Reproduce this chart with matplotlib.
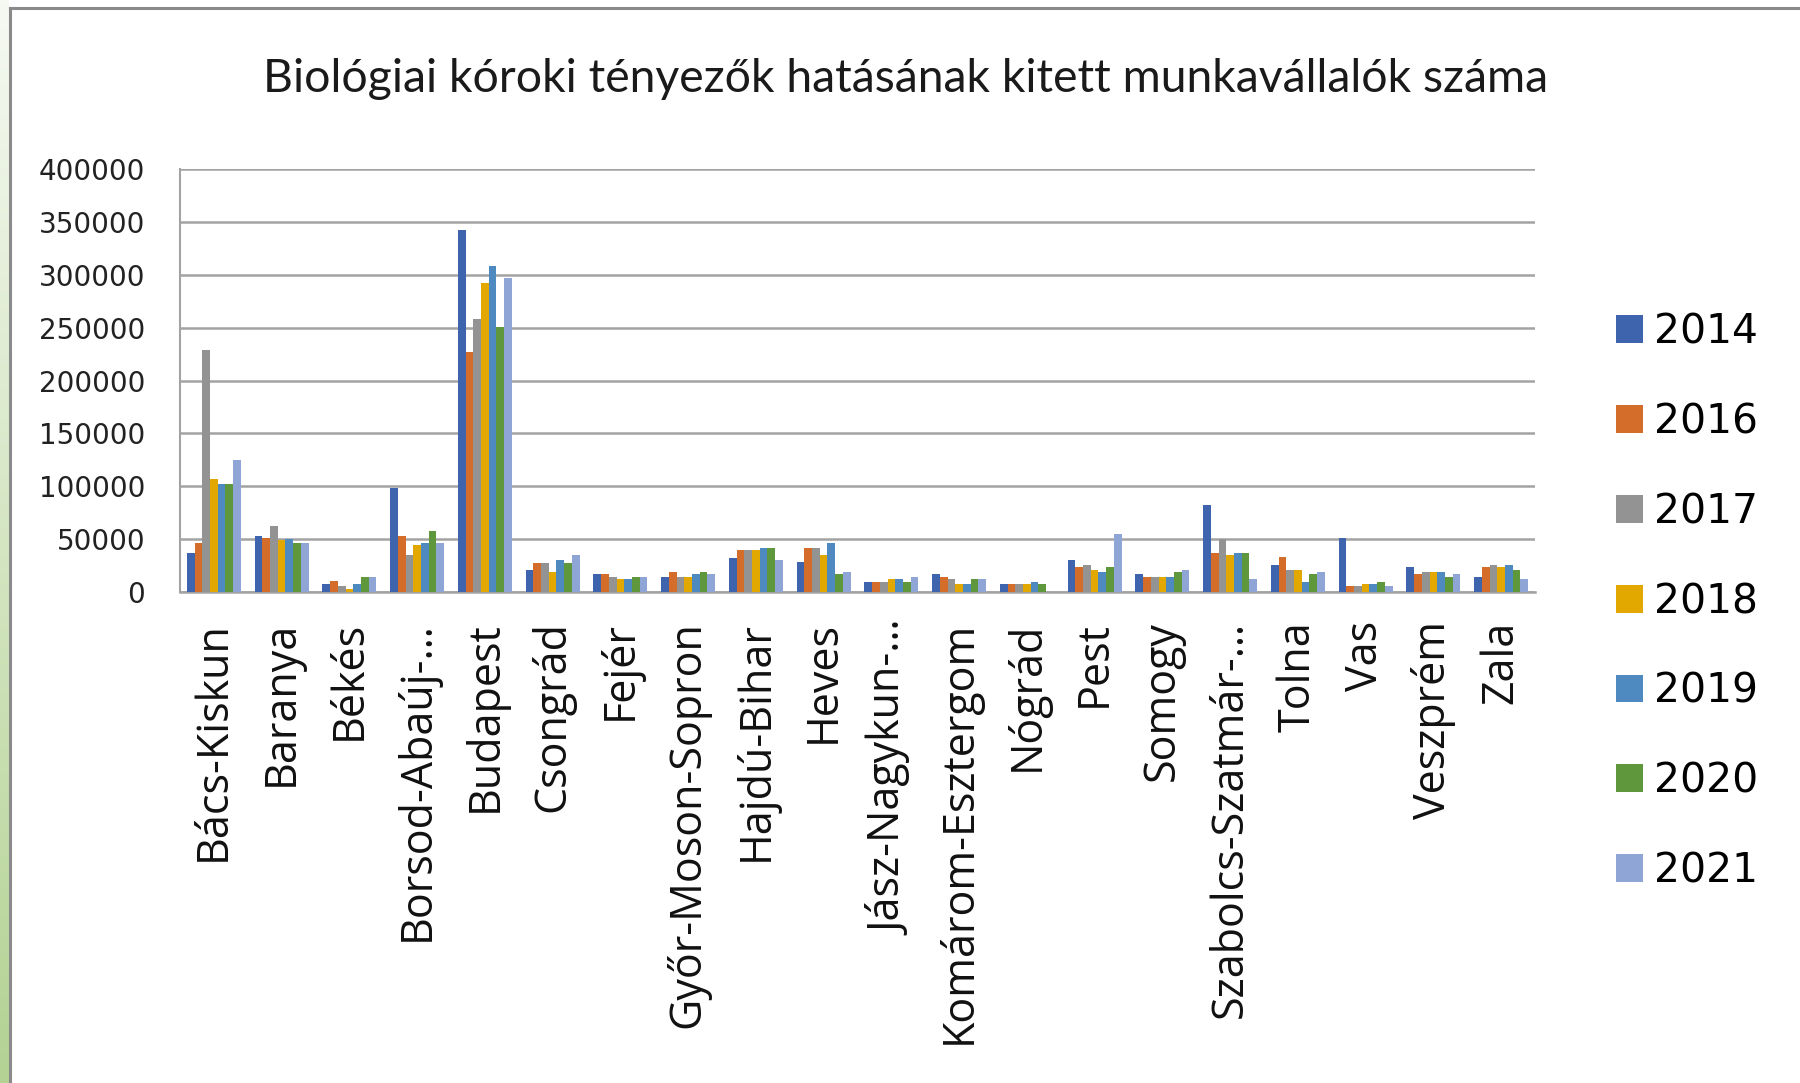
import numpy as np
import matplotlib.pyplot as plt
from matplotlib.lines import Line2D
from matplotlib.colors import LinearSegmentedColormap

# Counties (labels as shown, long ones truncated like in the original chart)
megyek = ["Bács-Kiskun", "Baranya", "Békés", "Borsod-Abaúj-…", "Budapest",
          "Csongrád", "Fejér", "Győr-Moson-Sopron", "Hajdú-Bihar", "Heves",
          "Jász-Nagykun-…", "Komárom-Esztergom", "Nógrád", "Pest", "Somogy",
          "Szabolcs-Szatmár-…", "Tolna", "Vas", "Veszprém", "Zala"]

evek = ["2014", "2016", "2017", "2018", "2019", "2020", "2021"]

v2014 = [37000, 52800, 7500, 98400, 342000, 21000, 16700, 14500, 32400, 28000,
         9700, 16700, 7500, 30200, 16700, 82000, 25800, 50600, 23600, 14500]
v2016 = [46000, 50600, 10000, 52800, 227000, 27700, 16700, 18900, 39300, 41500,
         9700, 14500, 7500, 23600, 14500, 37100, 32700, 5300, 16700, 23600]
v2017 = [229000, 62000, 5300, 34900, 258000, 27700, 14500, 14500, 39300, 41500,
         9700, 12000, 7500, 25800, 14500, 49700, 21100, 5300, 18900, 25800]
v2018 = [107000, 48700, 3100, 44000, 292500, 18900, 12000, 14500, 39300, 34600,
         12000, 7500, 7500, 21100, 14500, 34900, 21100, 7500, 18900, 23600]
v2019 = [102500, 50300, 7500, 45900, 308500, 30200, 12000, 16700, 41500, 45900,
         12000, 7500, 9700, 18900, 14500, 37100, 9700, 7500, 18900, 25800]
v2020 = [102500, 45900, 14500, 57500, 251000, 27700, 14500, 18900, 41500, 16700,
         9700, 12000, 7500, 23600, 18900, 37100, 16700, 9700, 14500, 21100]
v2021 = [125000, 45900, 14500, 45900, 297000, 34600, 14500, 16700, 30200, 18900,
         14500, 12000, 0, 55000, 21100, 12000, 18900, 5300, 16700, 12000]

szinek = ["#3D64AC", "#D46D2A", "#939393", "#E2A800", "#4E8AC0", "#5F973C", "#8FA5D6"]

sorozatok = [v2014, v2016, v2017, v2018, v2019, v2020, v2021]

fig = plt.figure(figsize=(18, 10.83), dpi=100)

# light green slide background strip on the left edge
bg = fig.add_axes([0, 0, 9 / 1800, 1])
grad = np.linspace(0, 1, 256).reshape(-1, 1)
cm = LinearSegmentedColormap.from_list("g", ["#f6f9f2", "#b3d293"])
bg.imshow(grad, aspect="auto", cmap=cm, extent=[0, 1, 0, 1], origin="upper")
bg.axis("off")

# chart frame (gray border, top and left visible)
fig.add_artist(Line2D([10 / 1800, 10 / 1800], [0, 1 - 8 / 1083],
                      transform=fig.transFigure, color="#8a8a8a", lw=2.2))
fig.add_artist(Line2D([10 / 1800, 1], [1 - 8 / 1083, 1 - 8 / 1083],
                      transform=fig.transFigure, color="#8a8a8a", lw=2.2))

ax = fig.add_axes([180 / 1800, 491 / 1083, 1355 / 1800, 423 / 1083])

x = np.arange(len(megyek))
n = len(sorozatok)
w = 0.8 / n
for i, (ev, vals, c) in enumerate(zip(evek, sorozatok, szinek)):
    ax.bar(x - 0.4 + w * (i + 0.5), vals, width=w, color=c, label=ev, zorder=3)

ax.set_xlim(-0.5, len(megyek) - 0.5)
ax.set_ylim(0, 400000)
ax.set_yticks(np.arange(0, 400001, 50000))
ax.set_yticklabels([str(v) for v in range(0, 400001, 50000)],
                   fontsize=20, family="DejaVu Sans", color="#222222")
ax.set_xticks(x)
ax.set_xticklabels(megyek, rotation=90, fontsize=31, family="Open Sans",
                   color="#111111")
ax.tick_params(axis="y", length=0, pad=25)
ax.tick_params(axis="x", length=0, pad=21)

ax.grid(axis="y", color="#a3a3a3", lw=1.8, zorder=0)
for s in ["top", "right"]:
    ax.spines[s].set_visible(False)
ax.spines["left"].set_color("#a3a3a3")
ax.spines["left"].set_linewidth(1.5)
ax.spines["bottom"].set_color("#a3a3a3")
ax.spines["bottom"].set_linewidth(1.8)

fig.text(906 / 1800, 1 - 79 / 1083,
         "Biológiai kóroki tényezők hatásának kitett munkavállalók száma",
         ha="center", va="center", fontsize=33.4, family="Lato", color="#1a1a1a")

fig.legend(loc="center left", bbox_to_anchor=(1616 / 1800, 1 - 602 / 1083),
           frameon=False, prop={"family": "DejaVu Sans", "size": 29.4},
           handlelength=0.67, handleheight=0.67, handletextpad=0.27,
           labelspacing=1.22, borderpad=0, borderaxespad=0)

plt.savefig("out.png", dpi=100)
